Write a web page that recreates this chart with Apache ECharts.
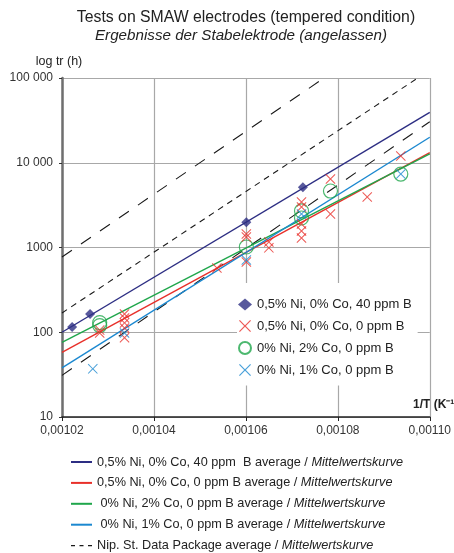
<!DOCTYPE html>
<html><head><meta charset="utf-8">
<script src="https://cdn.jsdelivr.net/npm/echarts@6/dist/echarts.min.js"></script>
<style>html,body{margin:0;padding:0;background:#fff}#c{width:454px;height:553px}</style>
</head><body><div id="c"></div>
<script>
// Tick values and labels
const xTickValues = [0.00102, 0.00104, 0.00106, 0.00108, 0.00110];
const xTickLabels = ['0,00102', '0,00104', '0,00106', '0,00108', '0,00110'];
const yTickValues = [10, 100, 1000, 10000, 100000];
const yTickLabels = ['10', '100', '1000', '10 000', '100 000'];

// Scatter: 0,5% Ni, 0% Co, 40 ppm B
const s1X = [0.0010222, 0.0010261, 0.0010601, 0.0010724];
const s1Y = [115, 164, 1980, 5130];
// Scatter: 0,5% Ni, 0% Co, 0 ppm B
const s2X = [0.0010282, 0.0010282, 0.0010336, 0.0010336, 0.0010336, 0.0010336, 0.0010336,
             0.0010537, 0.0010601, 0.0010601, 0.0010601, 0.0010650, 0.0010650,
             0.0010721, 0.0010721, 0.0010721, 0.0010721, 0.0010721,
             0.0010784, 0.0010784, 0.0010864, 0.0010937];
const s2Y = [106, 98, 164, 147, 129, 112, 86,
             573, 1443, 1330, 674, 1161, 990,
             3440, 3006, 1893, 1566, 1294,
             6430, 2485, 3945, 12020];
// Scatter: 0% Ni, 2% Co, 0 ppm B
const s3X = [0.0010282, 0.0010282, 0.0010601, 0.0010721, 0.0010721, 0.0010784, 0.0010937];
const s3Y = [130, 120, 1014, 2700, 2230, 4640, 7360];
// Scatter: 0% Ni, 1% Co, 0 ppm B
const s4X = [0.0010267, 0.0010336, 0.0010601, 0.0010721, 0.0010937];
const s4Y = [37, 98, 712, 2485, 7360];

// Average lines (end points)
const lineX = [0.00102, 0.00110];
const avg1Y = [100, 39400];
const avg2Y = [58, 13150];
const avg3Y = [76, 12700];
const avg4Y = [38, 20000];
const nipX = [0.00102, 0.00110];
const nipY = [169, 124000];
const bandUpX = [0.00102, 0.001077];
const bandUpY = [773, 100000];
const bandLoX = [0.00102, 0.00110];
const bandLoY = [31, 30500];

const scatterNames = ['0,5% Ni, 0% Co, 40 ppm B', '0,5% Ni, 0% Co, 0 ppm B', '0% Ni, 2% Co, 0 ppm B', '0% Ni, 1% Co, 0 ppm B'];
const lineNames = ['0,5% Ni, 0% Co, 40 ppm  B average', '0,5% Ni, 0% Co, 0 ppm B average', ' 0% Ni, 2% Co, 0 ppm B average', ' 0% Ni, 1% Co, 0 ppm B average', 'Nip. St. Data Package average'];

const C_NAVY = '#2d2e83', C_RED = '#e8302a', C_GREEN = '#1fa64b', C_BLUE = '#1b88d0';
const FONT = 'Liberation Sans, Arial, Helvetica, sans-serif';
const CROSS = 'path://M0,1L1,0L7,6L13,0L14,1L8,7L14,13L13,14L7,8L1,14L0,13L6,7Z';

const zip = (xs, ys) => xs.map((x, i) => [x, ys[i]]);

function lineSeries(name, xs, ys, color, type, width) {
  return {
    type: 'line', name, data: zip(xs, ys), symbol: 'none', clip: true, z: 2,
    lineStyle: { color, width: width || 1.4, type: type || 'solid' }, itemStyle: { color },
    emphasis: { disabled: true }, silent: true
  };
}

const chart = echarts.init(document.getElementById('c'), null, { renderer: 'canvas' });
chart.setOption({
  animation: false,
  backgroundColor: '#fff',
  title: [
    { text: 'Tests on SMAW electrodes (tempered condition)', left: 246, top: 10, textAlign: 'center', padding: 0,
      textStyle: { fontFamily: FONT, fontSize: 15.8, fontWeight: 'normal', color: '#222' } },
    { text: 'Ergebnisse der Stabelektrode (angelassen)', left: 241, top: 28, textAlign: 'center', padding: 0,
      textStyle: { fontFamily: FONT, fontSize: 15.2, fontWeight: 'normal', fontStyle: 'italic', color: '#222' } }
  ],
  grid: { left: 62, right: 22, top: 78, bottom: 136, containLabel: false },
  xAxis: {
    type: 'value', min: 0.00102, max: 0.00110, interval: 0.00002,
    axisLine: { lineStyle: { color: '#222', width: 1.5 } },
    axisTick: { show: true, length: 4, lineStyle: { color: '#222' } },
    axisLabel: { fontFamily: FONT, fontSize: 12, color: '#333', margin: 8,
      formatter: v => { const i = xTickValues.findIndex(t => Math.abs(t - v) < 1e-9); return i >= 0 ? xTickLabels[i] : ''; } },
    splitLine: { show: true, lineStyle: { color: '#a8a8a8', width: 1.2 } }
  },
  yAxis: {
    type: 'log', logBase: 10, min: 10, max: 100000,
    name: 'log tr (h)', nameLocation: 'end', nameGap: 10,
    nameTextStyle: { fontFamily: FONT, fontSize: 12.5, color: '#222', padding: [0, 6, 0, 0] },
    axisLine: { show: true, lineStyle: { color: '#6f6f6f', width: 2.5 } },
    axisTick: { show: true, length: 3, lineStyle: { color: '#333' } },
    axisLabel: { fontFamily: FONT, fontSize: 12, color: '#333', margin: 9,
      formatter: v => { const i = yTickValues.findIndex(t => Math.abs(Math.log10(t) - Math.log10(v)) < 1e-6); return i >= 0 ? yTickLabels[i] : ''; } },
    splitLine: { show: true, lineStyle: { color: '#a8a8a8', width: 1.2 } },
    minorTick: { show: false }
  },
  legend: [
    { data: scatterNames, orient: 'vertical', left: 237, top: 283, padding: [15, 6, 9, 1],
      backgroundColor: '#fff', itemWidth: 14, itemHeight: 12, itemGap: 8.5, selectedMode: false,
      textStyle: { fontFamily: FONT, fontSize: 13, color: '#222' } },
    { data: lineNames.map((n, i) => i === 4 ? { name: n, lineStyle: { type: [4, 4.5], width: 1.2 } } : { name: n }),
      orient: 'vertical', left: 70, top: 455, height: 110, padding: 0,
      itemWidth: 21, itemHeight: 14, itemGap: 6.9, selectedMode: false,
      itemStyle: { color: 'rgba(0,0,0,0)', borderColor: 'rgba(0,0,0,0)', borderWidth: 0 },
      lineStyle: { width: 2 },
      formatter: n => n + ' / {i|Mittelwertskurve}',
      textStyle: { fontFamily: FONT, fontSize: 12.7, color: '#222', lineHeight: 14,
        rich: { i: { fontFamily: FONT, fontSize: 12.7, fontStyle: 'italic', color: '#222', lineHeight: 14 } } } }
  ],
  graphic: [
    { type: 'text', left: 413, top: 399, silent: true,
      style: { text: '1/T (K⁻¹)', fontFamily: FONT, fontSize: 12, fontWeight: 'bold', fill: '#222' } }
  ],
  series: [
    lineSeries('band upper', bandUpX, bandUpY, '#1a1a1a', [12, 11], 1.1),
    lineSeries('band lower', bandLoX, bandLoY, '#1a1a1a', [12, 11], 1.1),
    lineSeries(lineNames[4], nipX, nipY, '#1a1a1a', [6, 5], 1.1),
    lineSeries(lineNames[0], lineX, avg1Y, C_NAVY),
    lineSeries(lineNames[1], lineX, avg2Y, C_RED),
    lineSeries(lineNames[2], lineX, avg3Y, C_GREEN),
    lineSeries(lineNames[3], lineX, avg4Y, C_BLUE),
    { type: 'scatter', name: scatterNames[2], data: zip(s3X, s3Y), symbol: 'circle', symbolSize: 14, z: 3,
      itemStyle: { color: 'rgba(255,255,255,0)', borderColor: C_GREEN, borderWidth: 1.2 } },
    { type: 'scatter', name: scatterNames[1], data: zip(s2X, s2Y), symbol: CROSS, symbolSize: 10, z: 4,
      itemStyle: { color: C_RED } },
    { type: 'scatter', name: scatterNames[3], data: zip(s4X, s4Y), symbol: CROSS, symbolSize: 10, z: 4,
      itemStyle: { color: C_BLUE } },
    { type: 'scatter', name: scatterNames[0], data: zip(s1X, s1Y), symbol: 'diamond', symbolSize: 10, z: 5,
      itemStyle: { color: C_NAVY } }
  ]
});
</script></body></html>
